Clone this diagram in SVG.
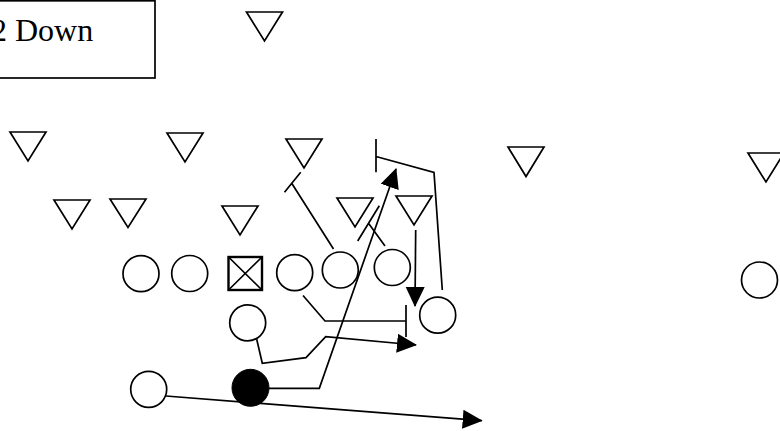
<svg xmlns="http://www.w3.org/2000/svg" width="780" height="431" viewBox="0 0 780 431">
<defs>
<style>
.d{fill:#fff;stroke:#000;stroke-width:1.7;stroke-linejoin:miter}
.o{fill:#fff;stroke:#000;stroke-width:1.7}
.c{fill:none;stroke:#000;stroke-width:1.7}
.t{font-family:"Liberation Serif","Times New Roman",serif;font-size:32px;fill:#000}
</style>
<marker id="ah" viewBox="0 0 20 20" refX="19" refY="10" markerWidth="20" markerHeight="20" markerUnits="userSpaceOnUse" orient="auto"><path d="M0,0.5 L20,10 L0,19.5 z" fill="#000"/></marker>
</defs>
<rect width="780" height="431" fill="#fff"/>
<g id="label">
<rect x="-10" y="0.8" width="165" height="77.2" fill="#fff" stroke="#000" stroke-width="1.7"/>
<text class="t" x="-9" y="41">2 Down</text>
</g>
<g id="defense">
<polygon id="d1" class="d" points="246.5,12 282.5,12 264.5,41"/>
<polygon id="d2" class="d" points="10,132 46,132 28,161"/>
<polygon id="d3" class="d" points="167,133 203,133 185,162"/>
<polygon id="d4" class="d" points="286,139 322,139 304,168"/>
<polygon id="d5" class="d" points="508,147 544,147 526,176.5"/>
<polygon id="d6" class="d" points="748,153 784,153 766,182"/>
<polygon id="d7" class="d" points="54,200 90,200 72,229"/>
<polygon id="d8" class="d" points="110,199 146,199 128,227.5"/>
<polygon id="d9" class="d" points="222,206 258,206 240,235"/>
<polygon id="d10" class="d" points="337,198 373,198 355,227"/>
<polygon id="d11" class="d" points="396,196 432,196 414,225"/>
</g>
<g id="connectors">
<path class="c" d="M166,396 L481.7,420.7" marker-end="url(#ah)"/>
<path class="c" d="M269,388.3 L319.3,388.3 L396,169" marker-end="url(#ah)"/>
<path class="c" d="M256.7,339.3 L262.3,363.3 L306,357.7 L325.7,336.7 L416,345" marker-end="url(#ah)"/>
<path class="c" d="M303,295.5 L325,321 L406,321 M406,305 L406,337"/>
<path class="c" d="M333.5,249 L291.7,183.3 M284.5,192.3 L300.7,172.3"/>
<path class="c" d="M385,246 L368.5,223.3 M357.7,241 L379.3,205.8"/>
<path class="c" d="M376,139 L376,172.3 M376,156.5 L434,172.5 L442.3,290"/>
<path class="c" d="M415.7,230 L415,306" marker-end="url(#ah)"/>
</g>
<g id="offense">
<circle id="o1" class="o" cx="141" cy="273.7" r="18"/>
<circle id="o2" class="o" cx="189.7" cy="273.5" r="18"/>
<g id="center">
<rect x="228.5" y="257" width="33.5" height="33" fill="#fff" stroke="#000" stroke-width="2.4"/>
<path d="M228.5,257 L262,290 M262,257 L228.5,290" stroke="#000" stroke-width="1.7"/>
</g>
<circle id="o4" class="o" cx="294.7" cy="272.7" r="18"/>
<circle id="o5" class="o" cx="340.3" cy="270" r="18"/>
<circle id="o6" class="o" cx="392.3" cy="267.5" r="18"/>
<circle id="o7" class="o" cx="437.7" cy="315.2" r="18"/>
<circle id="o8" class="o" cx="247.7" cy="322.8" r="18"/>
<circle id="qb" cx="250.5" cy="387.8" r="18.5" fill="#000" stroke="#000" stroke-width="1"/>
<circle id="o9" class="o" cx="148.7" cy="389.3" r="18"/>
<circle id="o10" class="o" cx="759.5" cy="280" r="18"/>
</g>
</svg>
